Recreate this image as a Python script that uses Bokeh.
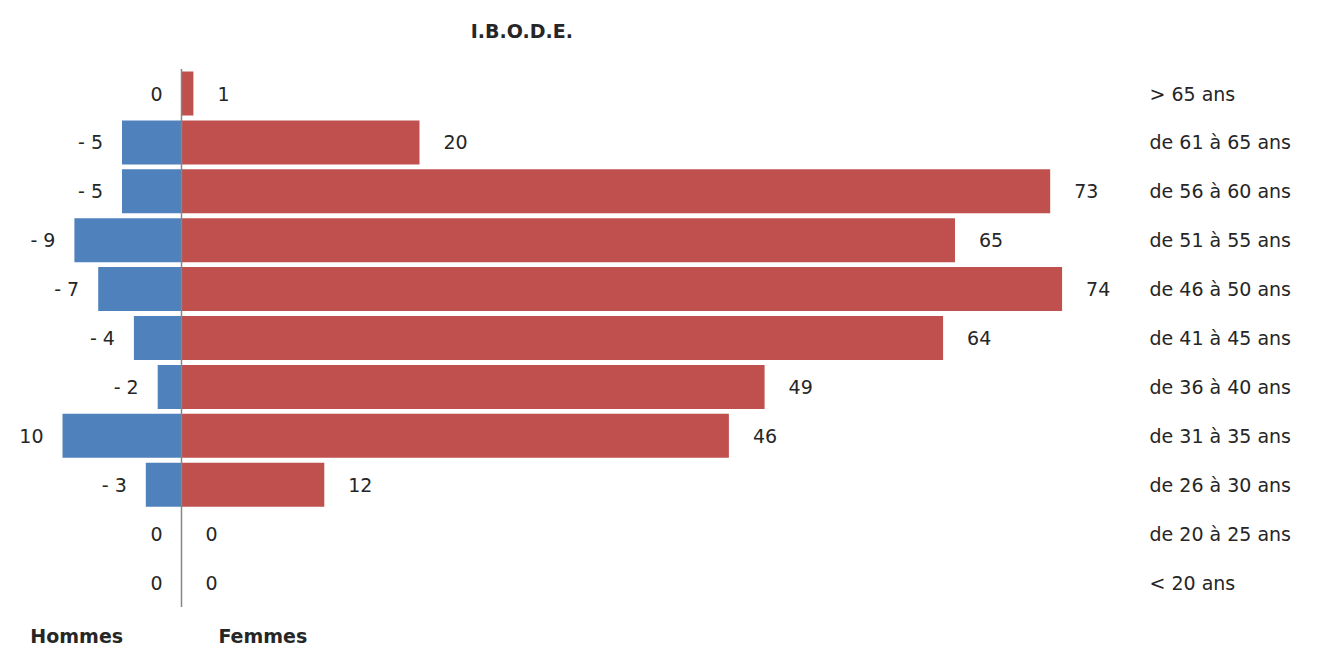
from bokeh.plotting import figure
from bokeh.models import ColumnDataSource, Label, LabelSet, Range1d, FixedTicker
from bokeh.core.properties import value
from bokeh.embed import file_html
from bokeh.resources import INLINE

categories = ["< 20 ans", "de 20 à 25 ans", "de 26 à 30 ans", "de 31 à 35 ans",
              "de 36 à 40 ans", "de 41 à 45 ans", "de 46 à 50 ans", "de 51 à 55 ans",
              "de 56 à 60 ans", "de 61 à 65 ans", "> 65 ans"]
hommes = [0, 0, 3, 10, 2, 4, 7, 9, 5, 5, 0]
femmes = [0, 0, 12, 46, 49, 64, 74, 65, 73, 20, 1]
hommes_labels = ["0", "0", "- 3", "10", "- 2", "- 4", "- 7", "- 9", "- 5", "- 5", "0"]
femmes_labels = [str(v) for v in femmes]
title = "I.B.O.D.E."
side_labels = ["Hommes", "Femmes"]

FONT = value("DejaVu Sans")
TXT = "#262626"
idx = list(range(len(categories)))

src = ColumnDataSource(dict(
    y=idx,
    h=[-v for v in hommes],
    f=femmes,
    hl=hommes_labels,
    fl=femmes_labels,
))

p = figure(width=1308, height=647,
           x_range=Range1d(-15.21, 80.59),
           y_range=Range1d(-1.329, 11.902),
           output_backend="svg", toolbar_location=None,
           min_border_left=0, min_border_right=168,
           min_border_top=0, min_border_bottom=0,
           y_axis_location="right", outline_line_color=None)

p.hbar(y="y", left=0, right="h", height=0.9, fill_color="#4F81BD", line_color=None, source=src)
p.hbar(y="y", left=0, right="f", height=0.9, fill_color="#C0504D", line_color=None, source=src)

# vertical axis line spanning the category band
p.segment(x0=[0], y0=[idx[0] - 0.5], x1=[0], y1=[idx[-1] + 0.5],
          line_color="#868686", line_width=1.5)

p.add_layout(LabelSet(x="h", y="y", text="hl", x_offset=-19, text_align="right",
                      text_baseline="middle", text_font=FONT, text_font_size="19px",
                      text_color=TXT, source=src))
p.add_layout(LabelSet(x="f", y="y", text="fl", x_offset=24, text_align="left",
                      text_baseline="middle", text_font=FONT, text_font_size="19px",
                      text_color=TXT, source=src))

p.xaxis.visible = False
p.xgrid.visible = False
p.ygrid.visible = False
p.yaxis.ticker = FixedTicker(ticks=idx)
p.yaxis.major_label_overrides = {i: c for i, c in zip(idx, categories)}
p.yaxis.axis_line_color = None
p.yaxis.major_tick_line_color = None
p.yaxis.minor_tick_line_color = None
p.yaxis.major_label_standoff = 3
p.yaxis.major_label_text_font = "DejaVu Sans"
p.yaxis.major_label_text_font_size = "19px"
p.yaxis.major_label_text_color = TXT

p.add_layout(Label(x=28.6, y=11.27, text=title,
                   text_align="center", text_baseline="middle", text_font="DejaVu Sans",
                   text_font_style="bold", text_font_size="19px", text_color=TXT))
p.add_layout(Label(x=-12.7, y=-1.325, text=side_labels[0],
                   text_align="left", text_baseline="bottom", text_font="DejaVu Sans",
                   text_font_style="bold", text_font_size="19px", text_color=TXT))
p.add_layout(Label(x=3.1, y=-1.325, text=side_labels[1],
                   text_align="left", text_baseline="bottom", text_font="DejaVu Sans",
                   text_font_style="bold", text_font_size="19px", text_color=TXT))

open("out.html", "w").write(file_html(p, INLINE))
